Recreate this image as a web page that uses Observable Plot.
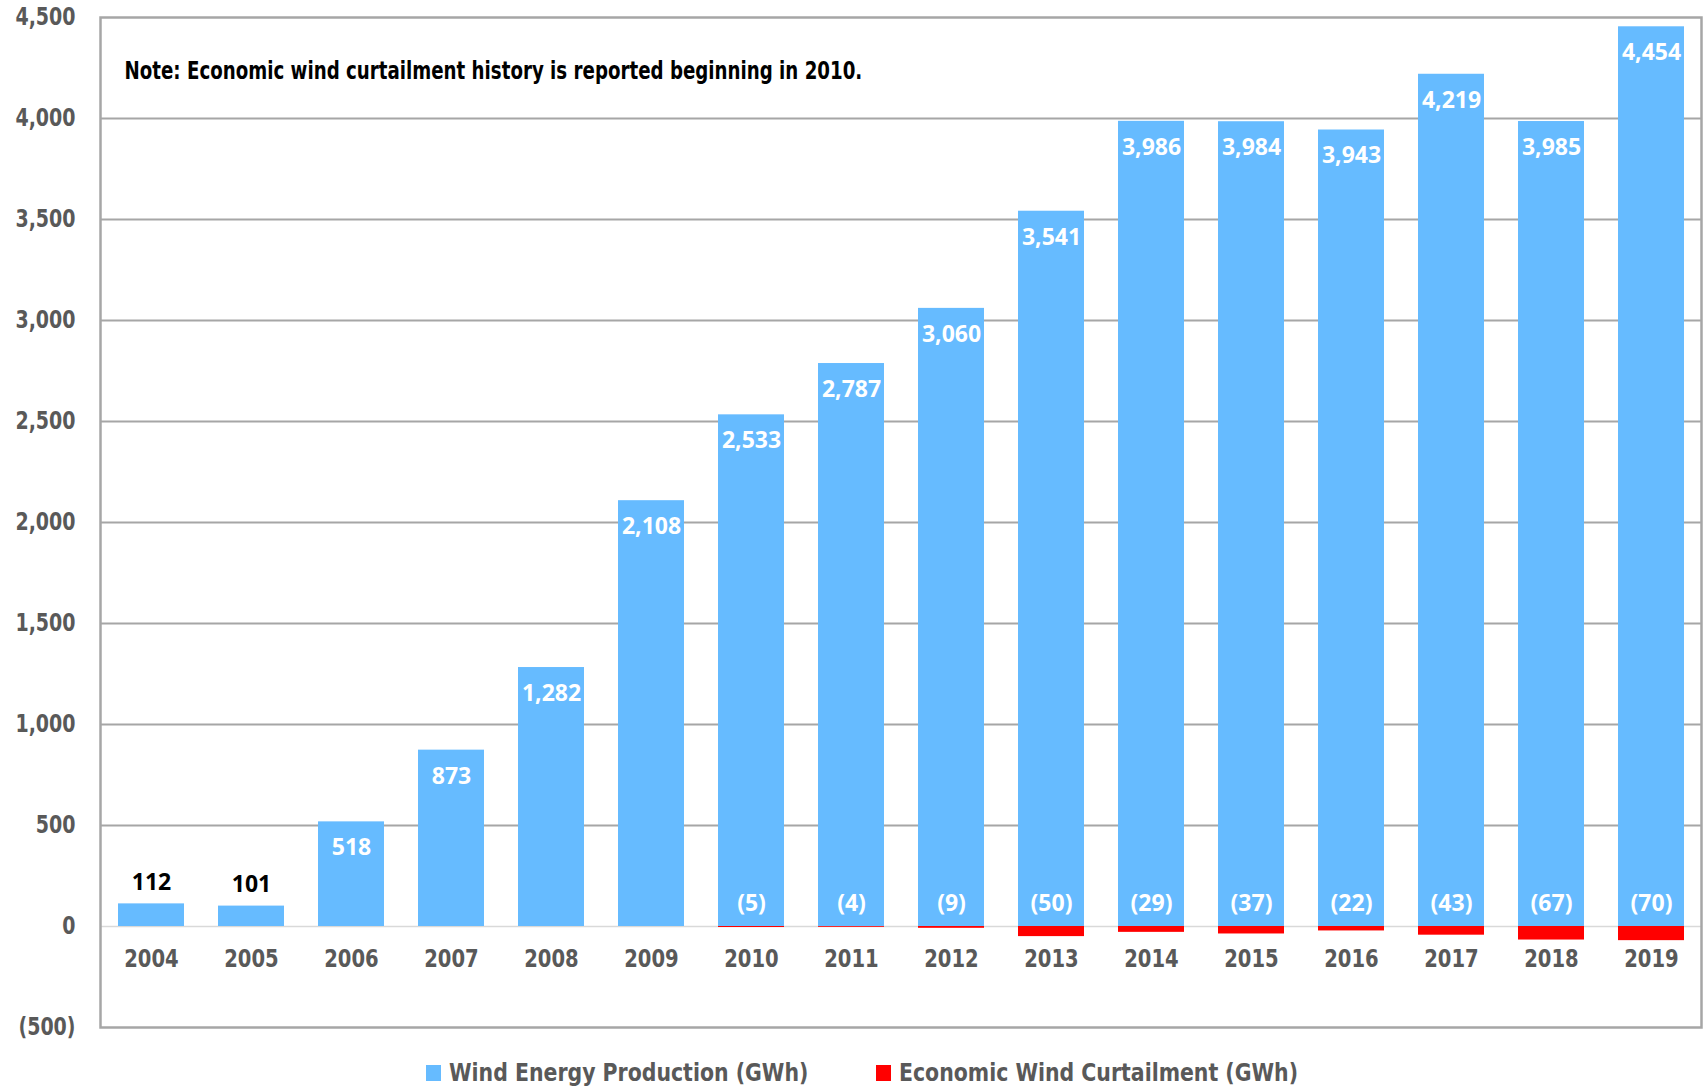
<!DOCTYPE html>
<html>
<head>
<meta charset="utf-8">
<script src="https://cdn.jsdelivr.net/npm/d3@7"></script>
<script src="https://cdn.jsdelivr.net/npm/@observablehq/plot@0.6"></script>
<style>
  body { margin: 0; background: #fff; }
  #wrap { position: relative; width: 1705px; height: 1089px; }
  .cond { font-family: "Liberation Sans Narrow", "DejaVu Sans Condensed", "Arial Narrow", sans-serif; font-weight: 700; }
  .item { position: absolute; top: 1058px; display: flex; align-items: center; font-size: 25px; color: #595959; white-space: nowrap; }
  .item .sw { display: inline-block; width: 15px; height: 16px; margin-right: 8px; }
  .item .lbl { display: inline-block; transform: scaleX(0.91); transform-origin: left center; }
</style>
</head>
<body>
<div id="wrap">
  <div id="chart"></div>
  <div class="item cond" style="left:426px"><span class="sw" style="background:#66BBFF"></span><span class="lbl">Wind Energy Production (GWh)</span></div>
  <div class="item cond" style="left:876px"><span class="sw" style="background:#FF0000"></span><span class="lbl">Economic Wind Curtailment (GWh)</span></div>
</div>
<script>
const years = ["2004","2005","2006","2007","2008","2009","2010","2011","2012","2013","2014","2015","2016","2017","2018","2019"];
const production = [112, 101, 518, 873, 1282, 2108, 2533, 2787, 3060, 3541, 3986, 3984, 3943, 4219, 3985, 4454];
const curtailment = [null, null, null, null, null, null, -5, -4, -9, -50, -29, -37, -22, -43, -67, -70];
const yTicks = [-500, 0, 500, 1000, 1500, 2000, 2500, 3000, 3500, 4000, 4500];
const note = "Note: Economic wind curtailment history is reported beginning in 2010.";

const prodData = years.map((y, i) => ({year: y, value: production[i]}));
const curtData = years.map((y, i) => ({year: y, value: curtailment[i]})).filter(d => d.value != null);

const condFont = '"Liberation Sans Narrow", "DejaVu Sans Condensed", "Arial Narrow", sans-serif';
const numFont = '"Open Sans", "Noto Sans", sans-serif';
const fmt = d3.format(",");
const yFmt = d => d < 0 ? `(${fmt(-d)})` : fmt(d);

const chart = Plot.plot({
  width: 1705,
  height: 1040,
  marginLeft: 100,
  marginRight: 4,
  marginTop: 17,
  marginBottom: 13,
  style: {fontFamily: condFont, background: "#fff"},
  x: {domain: years, paddingInner: 0.34, paddingOuter: 0.17, axis: null},
  y: {domain: [-500, 4500], axis: null},
  marks: [
    Plot.gridY(yTicks.filter(d => d > 0 && d < 4500), {stroke: "#a6a6a6", strokeOpacity: 1, strokeWidth: 2}),
    Plot.ruleY([0], {stroke: "#d9d9d9", strokeWidth: 1.5}),
    Plot.barY(prodData, {x: "year", y: "value", fill: "#66BBFF"}),
    Plot.barY(curtData, {x: "year", y: "value", fill: "#FF0000"}),
    Plot.frame({stroke: "#a6a6a6", strokeWidth: 2.5}),
    Plot.axisY({ticks: yTicks, tickFormat: yFmt, tickSize: 0, tickPadding: 25, fontSize: 24, fontWeight: 700, fill: "#595959", label: null}),
    // year labels below zero line
    Plot.text(years, {x: d => d, y: () => 0, dy: 32, text: d => d, fontSize: 25, fontWeight: 700, fill: "#595959", fontFamily: condFont}),
    // production labels
    Plot.text(prodData.filter(d => d.value >= 300), {x: "year", y: "value", text: d => fmt(d.value), dy: 26, fill: "white", fontSize: 23, fontWeight: 700, fontFamily: numFont}),
    Plot.text(prodData.filter(d => d.value < 300), {x: "year", y: "value", text: d => fmt(d.value), dy: -21, fill: "black", fontSize: 23, fontWeight: 700, fontFamily: numFont}),
    // curtailment labels
    Plot.text(curtData, {x: "year", y: () => 0, text: d => `(${fmt(-d.value)})`, dy: -23, fill: "white", fontSize: 23, fontWeight: 700, fontFamily: numFont}),
    // note
    Plot.text([note], {frameAnchor: "top-left", dx: 24, dy: 53, lineAnchor: "middle", text: d => d, textAnchor: "start", fontSize: 25, fontWeight: 700, fill: "black", fontFamily: condFont})
  ]
});
document.getElementById("chart").appendChild(chart);

// narrow the condensed texts horizontally to match the reference's very condensed face
const tickStrings = new Set(yTicks.map(yFmt));
const yearStrings = new Set(years);
chart.querySelectorAll("text").forEach(t => {
  const s = t.textContent;
  let k = null;
  if (s === note) k = 0.81;
  else if (yearStrings.has(s) && t.getAttribute("fill") !== "white") k = 0.87;
  else if (tickStrings.has(s)) k = 0.88;
  if (k == null) return;
  const w = t.getComputedTextLength();
  if (w > 0) {
    t.setAttribute("textLength", (w * k).toFixed(1));
    t.setAttribute("lengthAdjust", "spacingAndGlyphs");
  }
});
</script>
</body>
</html>
